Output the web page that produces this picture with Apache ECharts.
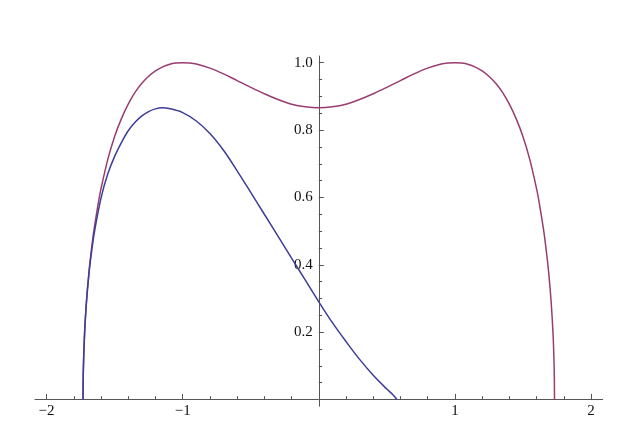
<!DOCTYPE html>
<html>
<head>
<meta charset="utf-8">
<script src="https://cdn.jsdelivr.net/npm/echarts@6/dist/echarts.min.js"></script>
<style>
html,body{margin:0;padding:0;background:#fff;}
#c{width:635px;height:442px;}
</style>
</head>
<body>
<div id="c"></div>
<script>
// Purple (upper) curve
var purpleX = [-1.732,-1.73,-1.725,-1.72,-1.71,-1.7,-1.69,-1.68,-1.66,-1.65,-1.62,-1.6,-1.55,-1.5,-1.45,-1.4,-1.35,-1.3,-1.25,-1.2,-1.15,-1.1,-1.05,-1,-0.95,-0.9,-0.8,-0.7,-0.6,-0.5,-0.4,-0.3,-0.2,-0.1,0,0.1,0.2,0.3,0.4,0.5,0.6,0.7,0.8,0.9,0.95,1,1.05,1.1,1.15,1.2,1.25,1.3,1.35,1.4,1.45,1.5,1.55,1.6,1.62,1.65,1.66,1.68,1.69,1.7,1.71,1.72,1.725,1.73,1.732];
var purpleY = [0,0.084,0.156,0.203,0.273,0.327,0.373,0.412,0.479,0.508,0.583,0.626,0.713,0.781,0.834,0.877,0.912,0.939,0.960,0.976,0.987,0.995,0.999,1,0.999,0.996,0.984,0.967,0.947,0.927,0.908,0.891,0.877,0.869,0.866,0.869,0.877,0.891,0.908,0.927,0.947,0.967,0.984,0.996,0.999,1,0.999,0.995,0.987,0.976,0.960,0.939,0.912,0.877,0.834,0.781,0.713,0.626,0.583,0.508,0.479,0.412,0.373,0.327,0.273,0.203,0.156,0.084,0];
// Blue (lower) curve
var blueX = [-1.732,-1.73,-1.72,-1.71,-1.7,-1.69,-1.68,-1.65,-1.6,-1.55,-1.5,-1.45,-1.4,-1.35,-1.3,-1.25,-1.2,-1.15,-1.1,-1,-0.9,-0.8,-0.7,-0.6,-0.5,-0.4,-0.3,-0.2,-0.1,0,0.1,0.2,0.3,0.4,0.5,0.55,0.574];
var blueY = [0,0.084,0.202,0.271,0.324,0.366,0.405,0.493,0.598,0.670,0.722,0.763,0.798,0.823,0.842,0.855,0.863,0.866,0.864,0.852,0.827,0.790,0.740,0.679,0.615,0.550,0.485,0.420,0.355,0.290,0.228,0.172,0.119,0.072,0.031,0.012,0];

// Tick positions
var xMajorTicks = [-2,-1,1,2];
var xMinorTicks = [-1.8,-1.6,-1.4,-1.2,-0.8,-0.6,-0.4,-0.2,0.2,0.4,0.6,0.8,1.2,1.4,1.6,1.8];
var yMajorTicks = [0.2,0.4,0.6,0.8,1.0];
var yMinorTicks = [0.05,0.1,0.15,0.25,0.3,0.35,0.45,0.5,0.55,0.65,0.7,0.75,0.85,0.9,0.95];

function pairs(xs, ys){ return xs.map(function(x,i){ return [x, ys[i]]; }); }

var axisColor = '#555555';
var font = {fontFamily:'Liberation Serif', fontSize:15, color:'#111'};
var XMIN = -2.085, XMAX = 2.086, YMIN = -0.02, YMAX = 1.02;
var GL = 35, GR = 32.3, GT = 56, GB = 35.8, W = 635, H = 442;
// shift axes from grid edges to the zero lines
var gw = W - GL - GR, gh = H - GT - GB;
var yAxisShift = -(gw * (0 - XMIN) / (XMAX - XMIN));
var xAxisShift = -(gh * (0 - YMIN) / (YMAX - YMIN));

var chart = echarts.init(document.getElementById('c'), null, {renderer:'canvas'});
chart.setOption({
  animation:false,
  backgroundColor:'#fff',
  grid:{left:GL, right:GR, top:GT, bottom:GB, containLabel:false},
  xAxis:[{
    type:'value', min:XMIN, max:XMAX, position:'bottom', offset:xAxisShift,
    axisLine:{show:true, onZero:false, lineStyle:{color:axisColor, width:1}},
    axisTick:{show:true, inside:true, length:5.5, customValues:xMajorTicks, lineStyle:{color:axisColor}},
    axisLabel:Object.assign({show:true, margin:4, customValues:xMajorTicks,
      formatter:function(v){ return v<0 ? '\u2212'+Math.abs(v) : String(v); }}, font),
    splitLine:{show:false}
  },{
    type:'value', min:XMIN, max:XMAX, position:'bottom', offset:xAxisShift,
    axisLine:{show:false, onZero:false},
    axisTick:{show:true, inside:true, length:3.3, customValues:xMinorTicks, lineStyle:{color:axisColor}},
    axisLabel:{show:false},
    splitLine:{show:false}
  }],
  yAxis:[{
    type:'value', min:YMIN, max:YMAX, position:'left', offset:yAxisShift,
    axisLine:{show:true, onZero:false, lineStyle:{color:axisColor, width:1}},
    axisTick:{show:true, inside:true, length:5, customValues:yMajorTicks, lineStyle:{color:axisColor}},
    axisLabel:Object.assign({show:true, margin:6, customValues:yMajorTicks,
      formatter:function(v){ return v.toFixed(1); }}, font),
    splitLine:{show:false}
  },{
    type:'value', min:YMIN, max:YMAX, position:'left', offset:yAxisShift,
    axisLine:{show:false, onZero:false},
    axisTick:{show:true, inside:true, length:3.3, customValues:yMinorTicks, lineStyle:{color:axisColor}},
    axisLabel:{show:false},
    splitLine:{show:false}
  }],
  series:[{
    type:'line', xAxisIndex:0, yAxisIndex:0, data:pairs(blueX, blueY),
    showSymbol:false, smooth:0.35,
    lineStyle:{color:'#3d3d99', width:1.5}, z:3
  },{
    type:'line', xAxisIndex:0, yAxisIndex:0, data:pairs(purpleX, purpleY),
    showSymbol:false, smooth:0.35,
    lineStyle:{color:'#993d71', width:1.5}, z:2
  }]
});
</script>
</body>
</html>
